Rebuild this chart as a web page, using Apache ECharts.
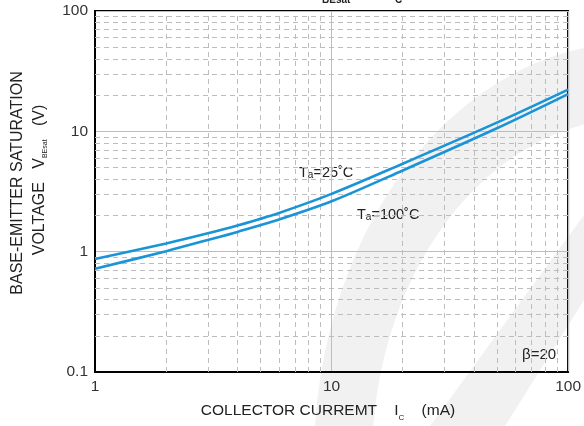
<!DOCTYPE html>
<html>
<head>
<meta charset="utf-8">
<script src="https://cdn.jsdelivr.net/npm/echarts@6/dist/echarts.min.js"></script>
<style>
  html, body { margin: 0; padding: 0; background: #fff; }
  #main { width: 584px; height: 426px; }
</style>
</head>
<body>
<div id="main"></div>
<script>
  var chartDom = document.getElementById("main");
  var myChart = echarts.init(chartDom);

  // collector current Ic (mA)
  var current = [1, 2, 3, 4, 6, 10, 20, 50, 100];
  // Vbe(sat) (V)
  var vbe25 = [0.87, 1.17, 1.42, 1.65, 2.1, 3.02, 5.38, 11.8, 22.2];
  var vbe100 = [0.72, 1.01, 1.25, 1.46, 1.85, 2.62, 4.73, 10.6, 20.4];
  // minor (dashed) grid positions
  var xMinor = [2, 3, 4, 5, 6, 7, 8, 9, 20, 30, 40, 50, 60, 70, 80, 90];
  var yMinor = [0.2, 0.3, 0.4, 0.5, 0.6, 0.7, 0.8, 0.9, 2, 3, 4, 5, 6, 7, 8, 9, 20, 30, 40, 50, 60, 70, 80, 90];

  var font = "Liberation Sans, Arial, sans-serif";
  var blue = "#1a94d6";

  var minorLines = [];
  xMinor.forEach(function (v) { minorLines.push({ xAxis: v }); });
  yMinor.forEach(function (v) { minorLines.push({ yAxis: v }); });

  function pairs(ys) {
    return current.map(function (x, i) { return [x, ys[i]]; });
  }

  var option = {
    backgroundColor: "#fff",
    animation: false,
    grid: {
      left: 95, right: 13, top: 11, bottom: 54,
      show: true, borderColor: "#000", borderWidth: 2, backgroundColor: "transparent"
    },
    xAxis: {
      type: "log", logBase: 10, min: 1, max: 100,
      axisLine: { lineStyle: { color: "#000", width: 2 } },
      axisTick: { show: false },
      axisLabel: { fontSize: 15.5, fontFamily: font, color: "#333", margin: 7 },
      splitLine: { show: true, lineStyle: { color: "#bdbdbd", width: 1 } }
    },
    yAxis: {
      type: "log", logBase: 10, min: 0.1, max: 100,
      axisLine: { lineStyle: { color: "#000", width: 2 } },
      axisTick: { show: false },
      axisLabel: { fontSize: 15.5, fontFamily: font, color: "#333", margin: 7 },
      splitLine: { show: true, lineStyle: { color: "#bdbdbd", width: 1 } }
    },
    graphic: [
      // faint watermark
      {
        type: "arc", z: -10, silent: true,
        shape: { cx: 635, cy: 460, r: 292, startAngle: Math.PI * 0.98, endAngle: Math.PI * 1.48 },
        scaleY: 1.3, originX: 635, originY: 460,
        style: { stroke: "#f1f1f1", lineWidth: 58, fill: null }
      },
      {
        type: "polygon", z: -10, silent: true,
        shape: { points: [[584, 215], [584, 300], [505, 426], [430, 426]] },
        style: { fill: "#f1f1f1" }
      },
      // cropped title fragment
      { type: "text", left: 322, top: -5, style: { text: "BEsat", fontSize: 10, fontWeight: "bold", fontFamily: font, fill: "#222" } },
      { type: "text", left: 395, top: -5, style: { text: "C", fontSize: 10, fontWeight: "bold", fontFamily: font, fill: "#222" } },
      // y axis title
      {
        type: "text", x: 18, y: 183, rotation: Math.PI / 2,
        style: { text: "BASE-EMITTER SATURATION", fontSize: 16, fontFamily: font, fill: "#222", align: "center", verticalAlign: "middle" }
      },
      {
        type: "text", x: 40, y: 180, rotation: Math.PI / 2,
        style: {
          text: "VOLTAGE   V{s|BEsat}   (V)",
          rich: { s: { fontSize: 7, fontFamily: font, fill: "#222", padding: [10, 0, 0, 0] } },
          fontSize: 16, fontFamily: font, fill: "#222", align: "center", verticalAlign: "middle"
        }
      },
      // x axis title
      {
        type: "text", x: 328, y: 411,
        style: {
          text: "COLLECTOR CURREMT    I{s|C}    (mA)",
          rich: { s: { fontSize: 8, fontFamily: font, fill: "#222", padding: [13, 0, 0, 0] } },
          fontSize: 15.5, fontFamily: font, fill: "#222", align: "center", verticalAlign: "middle"
        }
      },
      // curve labels
      {
        type: "text", left: 299, top: 165,
        style: {
          text: "T{s|a}=25˚C",
          rich: { s: { fontSize: 10, fontFamily: font, fill: "#222", padding: [5, 0, 0, 0] } },
          fontSize: 14.5, fontFamily: font, fill: "#222"
        }
      },
      {
        type: "text", left: 357, top: 207,
        style: {
          text: "T{s|a}=100˚C",
          rich: { s: { fontSize: 10, fontFamily: font, fill: "#222", padding: [5, 0, 0, 0] } },
          fontSize: 14.5, fontFamily: font, fill: "#222"
        }
      },
      {
        type: "text", left: 522, top: 347,
        style: { text: "β=20", fontSize: 15, fontFamily: font, fill: "#222" }
      }
    ],
    series: [
      {
        type: "line", data: [], z: 1, silent: true,
        markLine: {
          silent: true, symbol: "none", label: { show: false },
          lineStyle: { color: "#bdbdbd", width: 1, type: [5, 4] },
          emphasis: { disabled: true },
          data: minorLines
        }
      },
      {
        name: "Ta=25", type: "line", data: pairs(vbe25), smooth: 0.3, showSymbol: false, z: 5,
        lineStyle: { color: blue, width: 2.6 }
      },
      {
        name: "Ta=100", type: "line", data: pairs(vbe100), smooth: 0.3, showSymbol: false, z: 5,
        lineStyle: { color: blue, width: 2.6 }
      }
    ]
  };

  option && myChart.setOption(option);
</script>
</body>
</html>
